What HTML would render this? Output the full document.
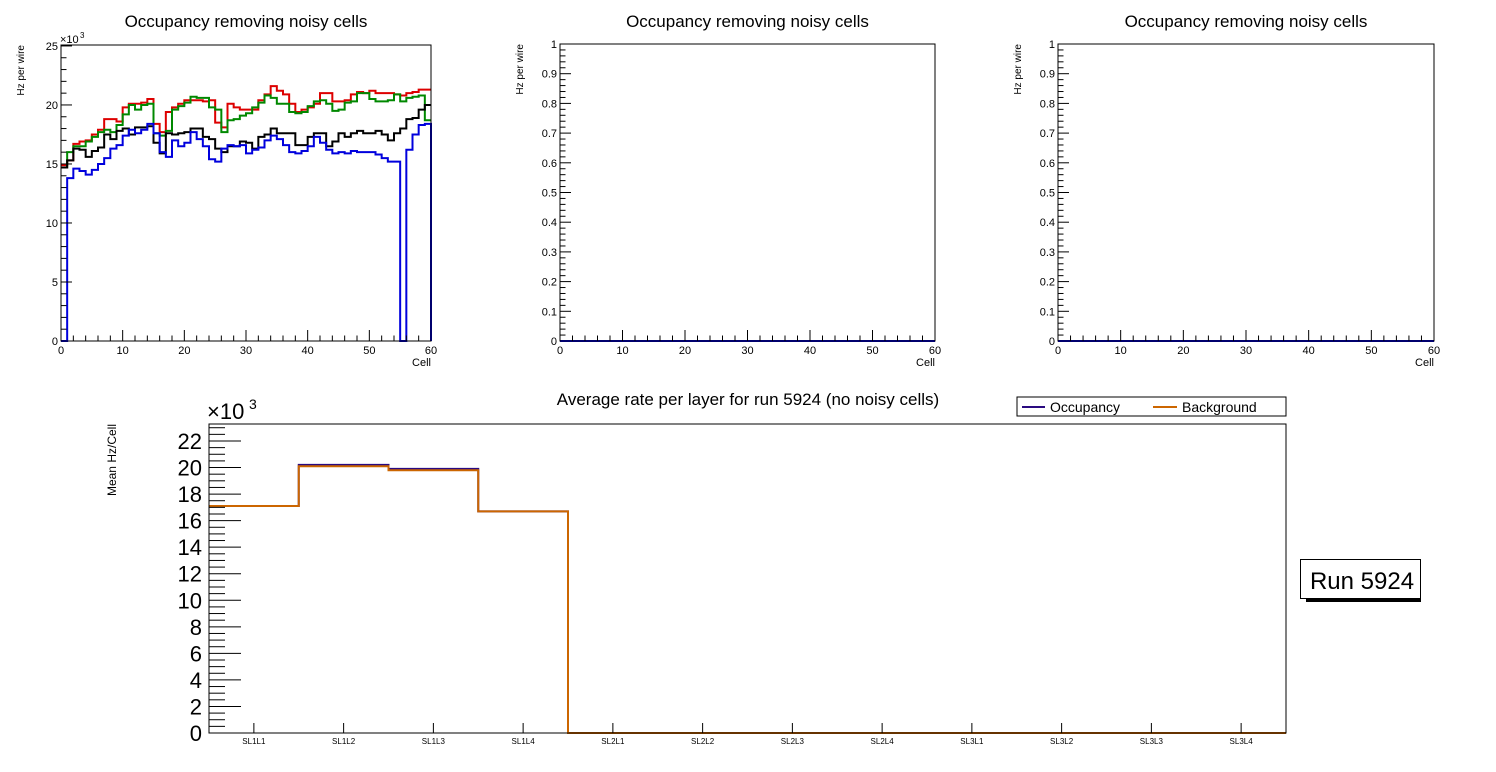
<!DOCTYPE html>
<html><head><meta charset="utf-8"><style>
body{margin:0;background:#fff;}
svg{display:block;font-family:"Liberation Sans",sans-serif;}
</style></head><body>
<svg id="c" width="1496" height="772" xmlns="http://www.w3.org/2000/svg"></svg>
<script>
const red=[14.9,15.3,16.7,16.9,17.0,17.5,17.9,18.8,18.8,18.6,19.8,20.1,20.1,20.2,20.5,18.4,17.7,19.4,19.8,20.1,20.4,20.4,20.4,20.3,20.4,18.5,18.1,20.1,19.8,19.6,19.6,19.6,20.4,20.9,21.6,21.2,20.9,20.1,19.4,19.6,19.8,20.1,21.0,21.0,20.3,20.3,20.4,20.9,21.1,21.0,21.2,21.0,21.0,21.0,20.9,20.8,21.0,21.1,21.3,21.3];
const green=[14.7,16.0,16.5,16.5,16.9,17.3,17.7,17.9,17.7,18.3,19.2,20.0,19.6,20.0,20.1,17.6,17.4,17.8,19.6,19.9,20.2,20.7,20.6,20.6,19.8,19.6,17.7,18.7,18.8,19.1,19.3,19.8,20.2,20.8,20.6,20.1,20.1,19.4,19.3,19.4,19.9,20.3,20.4,20.1,19.5,19.6,20.2,20.3,21.0,21.0,20.5,20.3,20.3,20.4,20.9,20.3,20.6,20.7,20.8,18.7];
const black=[14.7,15.3,16.3,16.2,15.6,16.1,16.4,17.5,17.1,17.8,18.0,17.5,18.1,18.1,18.2,16.8,15.9,17.6,17.5,17.6,17.7,18.0,18.0,17.3,17.1,16.3,16.0,16.5,16.5,16.9,16.8,16.3,17.3,17.5,18.0,17.6,17.6,17.6,16.6,16.6,17.3,17.6,17.6,16.5,16.9,17.6,17.3,17.6,17.8,17.6,17.6,17.8,17.5,17.0,17.6,18.0,18.8,18.9,19.6,20.0];
const blue=[0,13.8,14.6,14.4,14.1,14.5,15.0,15.5,16.3,16.6,17.4,17.9,17.6,17.9,18.4,17.6,16.0,15.6,17.0,16.5,16.8,17.7,17.1,16.5,15.4,15.2,16.3,16.6,16.5,16.6,15.9,16.2,16.4,17.0,17.4,17.1,16.6,16.0,15.9,16.1,16.5,17.3,16.8,16.2,15.9,16.0,15.9,16.1,16.0,16.0,16.0,15.8,15.5,15.2,15.2,0,16.2,17.5,18.3,18.4];
const layers=["SL1L1","SL1L2","SL1L3","SL1L4","SL2L1","SL2L2","SL2L3","SL2L4","SL3L1","SL3L2","SL3L3","SL3L4"];
const occupancy=[17.1,20.2,19.9,16.7,0,0,0,0,0,0,0,0];
const background=[17.1,20.1,19.8,16.7,0,0,0,0,0,0,0,0];
const yTicks1=[0,5,10,15,20,25];
const yTicks2=["0","0.1","0.2","0.3","0.4","0.5","0.6","0.7","0.8","0.9","1"];
const xTicks=[0,10,20,30,40,50,60];
const yTicksB=[0,2,4,6,8,10,12,14,16,18,20,22];

const S=document.getElementById('c');const NS='http://www.w3.org/2000/svg';
function el(t,a,p){const e=document.createElementNS(NS,t);for(const k in a)e.setAttribute(k,a[k]);(p||S).appendChild(e);return e;}
function txt(x,y,s,size,anchor,p,extra){const e=el('text',Object.assign({x:x,y:y,'font-size':size,'text-anchor':anchor||'middle',fill:'#000'},extra||{}),p);e.textContent=s;return e;}

function histPanel(idx,L,R,T,B,ymax,tickMax,yt,ylabels,series,title){
  const g=el('g',{});
  
  
  const xs=v=>L+(R-L)*v/60, ys=v=>B-(B-T)*v/ymax;
  const t=txt((L+R)/2,27,title,17,'middle',g);
  
  series.forEach(s=>{
    let d='';
    s.v.forEach((v,i)=>{const x0=xs(i),x1=xs(i+1),y=ys(v);d+=(i==0?'M'+x0+','+y:'L'+x0+','+y)+'L'+x1+','+y;});
    if(s.close)d+='L'+xs(60)+','+B;
    const p=el('path',{d:d,fill:'none',stroke:s.c,'stroke-width':2},g);
    
  });
  const f=el('rect',{x:L,y:T,width:R-L,height:B-T,fill:'none',stroke:'#000','stroke-width':1},g);
  
  const nMinor=tickMax==1?50:25;
  for(let i=0;i<=nMinor;i++){const v=tickMax*i/nMinor;const major=(i%5==0);const y=ys(v);el('line',{x1:L,x2:L+(major?11:5.5),y1:y,y2:y,stroke:'#000'},g);}
  yt.forEach((v,i)=>{txt(L-3,ys(v)+4,ylabels[i],11,'end',g);});
  for(let i=0;i<=30;i++){const x=xs(i*2);const major=i%5==0;el('line',{x1:x,x2:x,y1:B,y2:B-(major?11:5.5),stroke:'#000'},g);}
  xTicks.forEach(v=>txt(xs(v),B+13,String(v),11,'middle',g));
  txt(R,B+25,'Cell',11,'end',g);
  const yl=txt(0,0,'Hz per wire',10,'end',g,{transform:'translate('+(L-37)+','+T+') rotate(-90)'});
  
  if(tickMax!=1){txt(L-1,T-2,'×10',11,'start',g);txt(L+19,T-7,'3',8,'start',g);}
}
histPanel(1,61,431,45,341,25.08,25,yTicks1,yTicks1.map(String),[
 {v:red,c:'#dd0000',n:'series-red'},{v:green,c:'#008800',n:'series-green'},{v:black,c:'#000',n:'series-black'},{v:blue,c:'#0000dd',n:'series-blue',close:true}],'Occupancy removing noisy cells');
const zeros=new Array(60).fill(0);
histPanel(2,560,935,44,341,1,1,yTicks2.map(Number),yTicks2,[{v:zeros,c:'#0000dd',n:'series-blue'}],'Occupancy removing noisy cells');
histPanel(3,1058,1434,44,341,1,1,yTicks2.map(Number),yTicks2,[{v:zeros,c:'#0000dd',n:'series-blue'}],'Occupancy removing noisy cells');

(function(){
  const L=209,R=1286,T=424,B=733,ymax=23.28;
  const g=el('g',{});
  
  
  const bw=(R-L)/layers.length;
  const xs=i=>L+bw*i, ys=v=>B-(B-T)*v/ymax;
  const t=txt(748,405,'Average rate per layer for run 5924 (no noisy cells)',17,'middle',g);
  
  [[occupancy,'#2a0a80','occupancy-line'],[background,'#cc6600','background-line']].forEach(s=>{
    let d='';s[0].forEach((v,i)=>{d+=(i==0?'M':'L')+xs(i)+','+ys(v)+'L'+xs(i+1)+','+ys(v);});
    const p=el('path',{d:d,fill:'none',stroke:s[1],'stroke-width':2},g);
    
  });
  const f=el('rect',{x:L,y:T,width:R-L,height:B-T,fill:'none',stroke:'#000'},g);
  
  for(let v=0;v<=ymax;v+=0.5){const y=ys(v);const major=Math.abs(v%2)<1e-6;el('line',{x1:L,x2:L+(major?32:16),y1:y,y2:y,stroke:'#000'},g);}
  yTicksB.forEach(v=>txt(L-7,ys(v)+8,String(v),22,'end',g));
  txt(L-2,T-5,'×10',22,'start',g);txt(L+40,T-15,'3',14,'start',g);
  layers.forEach((c,i)=>{const x=xs(i+0.5);el('line',{x1:x,x2:x,y1:B,y2:B-10,stroke:'#000'},g);const l=txt(x,B+11,c,8,'middle',g);});
  const yl=txt(0,0,'Mean Hz/Cell',12,'end',g,{transform:'translate(116,424) rotate(-90)'});
  
  const lg=el('g',{},g);
  
  el('rect',{x:1017,y:397,width:269,height:19,fill:'#fff',stroke:'#000'},lg);
  const e1=el('line',{x1:1022,x2:1045,y1:407,y2:407,stroke:'#2a0a80','stroke-width':2},lg);
  
  txt(1050,412,'Occupancy',14,'start',lg);
  const e2=el('line',{x1:1153,x2:1177,y1:407,y2:407,stroke:'#cc6600','stroke-width':2},lg);
  
  txt(1182,412,'Background',14,'start',lg);
  const rb=el('g',{},g);
  
  el('rect',{x:1306,y:597,width:115,height:5,fill:'#000'},rb);
  el('rect',{x:1300.5,y:559.5,width:120,height:39,fill:'#fff',stroke:'#000'},rb);
  txt(1362,589,'Run 5924',24,'middle',rb);
})();
</script>
</body></html>
